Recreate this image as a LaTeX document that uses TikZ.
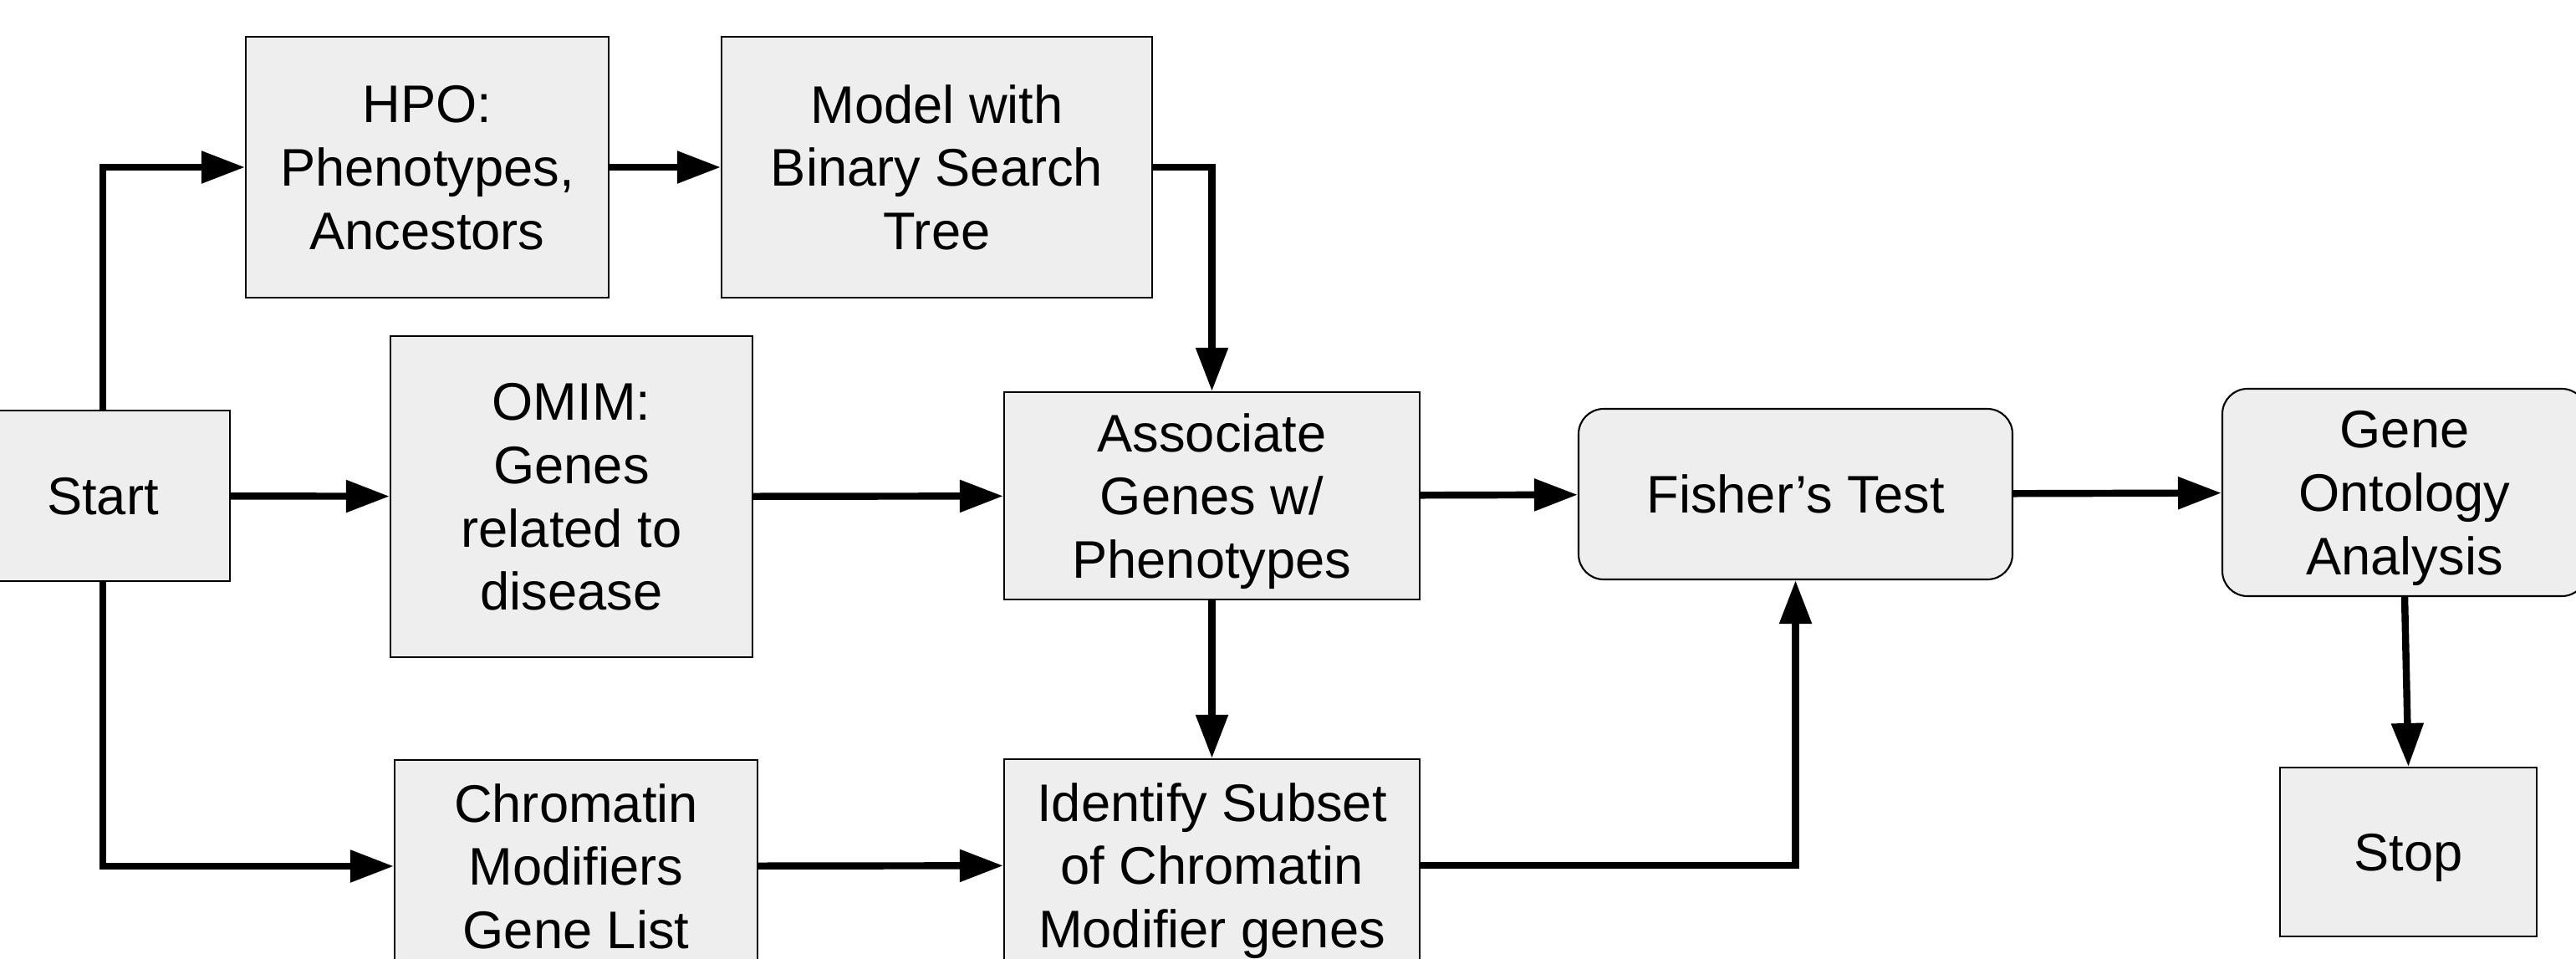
\documentclass[tikz,border=0pt]{standalone}
\usepackage{fontspec}
\setmainfont{Liberation Sans}
\usetikzlibrary{arrows.meta}
\definecolor{boxgray}{HTML}{EEEEEE}

\tikzset{
  block/.style={draw, line width=0.6pt, fill=boxgray, align=center, inner sep=0pt,
    text depth=0pt, font=\fontsize{18}{21.6}\selectfont},
  roundblock/.style={block, rounded corners=3mm},
  flow/.style={line width=2.4pt, -{Triangle[length=5.2mm,width=3.7mm]}},
}

\begin{document}
\begin{tikzpicture}

\useasboundingbox (0,0) rectangle (30.81,-11.46);

%Boxes
\node[block, minimum width=3.04cm, minimum height=2.04cm] (start) at (1.23, -5.93) {Start};
\node[block, minimum width=4.34cm, minimum height=3.12cm] (hpo) at (5.11, -2.00) {HPO:\\Phenotypes,\\Ancestors};
\node[block, minimum width=5.15cm, minimum height=3.12cm] (model) at (11.205, -2.00) {Model with\\Binary Search\\Tree};
\node[block, minimum width=4.33cm, minimum height=3.84cm] (omim) at (6.835, -5.94) {OMIM:\\Genes\\related to\\disease};
\node[block, minimum width=4.34cm, minimum height=2.54cm] (chrom) at (6.89, -10.36) {Chromatin\\Modifiers\\Gene List};
\node[block, minimum width=4.97cm, minimum height=2.48cm] (assoc) at (14.495, -5.93) {Associate\\Genes w/\\Phenotypes};
\node[block, minimum width=4.97cm, minimum height=2.54cm] (ident) at (14.495, -10.35) {Identify Subset\\of Chromatin\\Modifier genes};
\node[roundblock, minimum width=5.19cm, minimum height=2.04cm] (fisher) at (21.475, -5.91) {Fisher’s Test};
\node[roundblock, minimum width=4.36cm, minimum height=2.48cm] (onto) at (28.76, -5.89) {Gene\\Ontology\\Analysis};
\node[block, minimum width=3.07cm, minimum height=2.02cm] (stop) at (28.805, -10.19) {Stop};

%Arrows
\draw[flow] (start.north) |- (hpo.west);
\draw[flow] (hpo) -- (model);
\draw[flow] (model.east) -| (assoc.north);
\draw[flow] (start) -- (omim);
\draw[flow] (start.south) |- (chrom.west);
\draw[flow] (omim) -- (assoc);
\draw[flow] (assoc) -- (ident);
\draw[flow] (chrom) -- (ident);
\draw[flow] (assoc) -- (fisher);
\draw[flow] (ident.east) -| (fisher.south);
\draw[flow] (fisher) -- (onto);
\draw[flow] (onto.south) -- (stop.north);

\end{tikzpicture}
\end{document}
